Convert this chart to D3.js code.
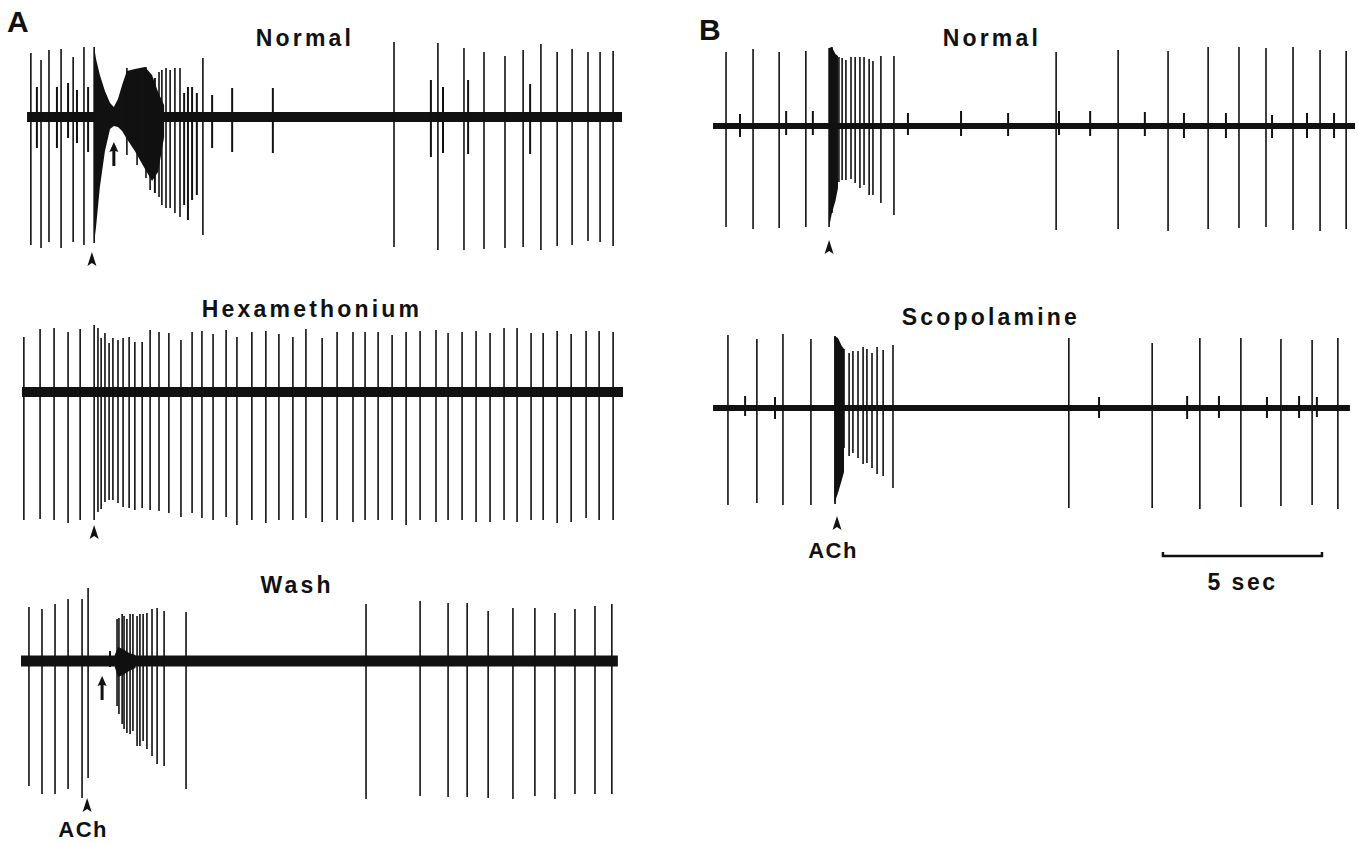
<!DOCTYPE html>
<html>
<head>
<meta charset="utf-8">
<script src="https://cdn.jsdelivr.net/npm/d3@7/dist/d3.min.js"></script>
<style>
    body { margin: 0; background: #fff; }
    text { font-family: "Liberation Sans", Arial, sans-serif; font-weight: 700; fill: #111; }
</style>
</head>
<body>
<div id="chart"></div>
<script>
// ---- data: spikes are [time (s), upward deflection, downward deflection] ----
// panel A, normal
const spikesANormal = [
    [0.31, 64, 128], [0.50, 30, 31], [0.63, 57, 131], [0.88, 67, 125], [1.13, 30, 31],
    [1.26, 68, 131], [1.48, 34, 21], [1.64, 60, 125], [1.76, 27, 26], [1.98, 70, 128],
    [2.11, 30, 35], [2.30, 70, 126],
    [3.33, 49, 38], [3.65, 45, 48], [3.93, 50, 61], [4.06, 42, 73], [4.21, 39, 76],
    [4.34, 45, 80], [4.43, 47, 88], [4.56, 49, 91], [4.69, 47, 91], [4.84, 49, 96],
    [5.00, 49, 100], [5.13, 24, 88], [5.25, 30, 103], [5.38, 30, 83], [5.53, 24, 78],
    [5.72, 59, 118], [6.01, 22, 31], [6.64, 29, 35], [7.92, 29, 36],
    [11.73, 75, 130], [12.89, 37, 40], [13.11, 74, 133], [13.27, 30, 36], [13.93, 69, 133],
    [14.06, 37, 37], [14.56, 65, 132], [15.22, 61, 131], [15.79, 67, 130], [16.01, 33, 37],
    [16.35, 73, 133], [16.86, 65, 129], [17.33, 68, 128], [17.83, 65, 124], [18.21, 65, 125],
    [18.62, 66, 129]
];
// dense response after ACh: [time, upper envelope, lower envelope]
const burstANormal = [
    [2.30, 70, 126], [2.36, 58, 110], [2.48, 42, 70], [2.64, 26, 34], [2.80, 14, 12],
    [2.92, 10, 9], [3.05, 18, 10], [3.18, 32, 14], [3.33, 46, 22], [3.58, 48, 34],
    [3.90, 50, 52], [4.12, 42, 64], [4.31, 25, 55], [4.50, 12, 20]
];

// panel A, hexamethonium
const spikesAHexa = [
    [0.09, 55, 128], [0.60, 63, 127], [1.04, 64, 128], [1.48, 60, 131], [1.86, 63, 128],
    [2.30, 67, 128], [2.42, 64, 120], [2.52, 54, 117], [2.64, 59, 110], [2.77, 49, 108],
    [2.89, 54, 108], [3.05, 52, 111], [3.21, 54, 115], [3.40, 55, 116], [3.58, 50, 118],
    [3.81, 50, 116], [4.06, 62, 118], [4.34, 60, 119], [4.65, 59, 121], [5.03, 52, 125],
    [5.38, 60, 121], [5.69, 61, 126], [6.04, 58, 128], [6.45, 62, 125], [6.79, 55, 133],
    [7.26, 60, 128], [7.70, 61, 131], [8.11, 58, 128], [8.55, 55, 128], [8.96, 63, 126],
    [9.47, 54, 130], [9.94, 60, 128], [10.44, 60, 130], [10.82, 60, 128], [11.23, 60, 128],
    [11.67, 57, 128], [12.11, 60, 133], [12.55, 61, 128], [13.05, 62, 130], [13.43, 59, 128],
    [13.87, 60, 128], [14.31, 61, 130], [14.75, 59, 130], [15.19, 64, 128], [15.60, 64, 130],
    [16.04, 59, 128], [16.42, 59, 128], [16.86, 61, 131], [17.30, 58, 130], [17.77, 61, 126],
    [18.18, 61, 128], [18.62, 60, 128]
];

// panel A, wash
const spikesAWash = [
    [0.25, 54, 125], [0.66, 52, 133], [1.07, 57, 133], [1.48, 62, 128], [1.92, 62, 137],
    [2.11, 73, 117], [2.80, 10, 6],
    [3.02, 42, 45], [3.08, 43, 53], [3.18, 47, 63], [3.24, 45, 68], [3.33, 42, 72],
    [3.43, 47, 73], [3.52, 47, 70], [3.65, 45, 85], [3.74, 47, 85], [3.84, 47, 80],
    [3.96, 48, 88], [4.12, 52, 95], [4.28, 53, 103], [4.50, 50, 105], [5.19, 49, 128],
    [10.85, 57, 138], [12.55, 60, 135], [13.43, 58, 136], [14.03, 58, 136], [14.69, 50, 137],
    [15.47, 53, 138], [16.16, 53, 135], [16.79, 48, 138], [17.42, 52, 133], [18.05, 55, 133],
    [18.58, 57, 133]
];
const burstAWash = [
    [2.95, 6, 6], [3.05, 14, 16], [3.20, 12, 14], [3.40, 8, 10], [3.60, 6, 7]
];

// panel B, normal
const spikesBNormal = [
    [0.41, 74, 101], [0.85, 12, 11], [1.26, 77, 103], [2.08, 74, 102], [2.30, 15, 9],
    [2.92, 75, 101], [3.14, 15, 9], [3.65, 78, 101], [3.74, 79, 87],
    [3.96, 69, 56], [4.06, 68, 54], [4.18, 66, 54], [4.34, 69, 53], [4.47, 69, 57],
    [4.62, 69, 62], [4.75, 69, 59], [4.91, 67, 69], [5.03, 65, 69], [5.28, 70, 77],
    [5.69, 70, 89], [6.13, 13, 9], [7.80, 15, 10], [9.28, 13, 10],
    [10.79, 74, 104], [10.88, 15, 9], [11.86, 15, 10], [12.74, 76, 103], [13.58, 14, 10],
    [14.31, 75, 105], [14.81, 13, 12], [15.57, 79, 103], [16.13, 13, 12], [16.54, 79, 102],
    [17.39, 78, 101], [17.58, 11, 12], [18.24, 79, 104], [18.68, 13, 12], [19.09, 76, 105],
    [19.53, 13, 12], [19.91, 75, 103]
];
const burstBNormal = [
    [3.65, 78, 101], [3.74, 79, 87], [3.85, 72, 75], [3.93, 70, 62]
];

// panel B, scopolamine
const spikesBScop = [
    [0.47, 73, 97], [1.01, 12, 8], [1.38, 69, 95], [1.95, 11, 11], [2.20, 74, 97],
    [3.08, 69, 97], [3.84, 72, 96],
    [4.12, 59, 40], [4.28, 55, 48], [4.40, 57, 45], [4.56, 57, 50], [4.72, 61, 56],
    [4.84, 59, 55], [5.00, 55, 60], [5.16, 61, 66], [5.35, 58, 68], [5.66, 63, 80],
    [11.19, 70, 100], [12.14, 11, 10], [13.81, 65, 100], [14.91, 12, 11], [15.31, 70, 101],
    [15.91, 12, 10], [16.60, 70, 99], [17.42, 11, 10], [17.86, 69, 98], [18.43, 12, 10],
    [18.84, 68, 97], [18.99, 11, 9], [19.65, 70, 101]
];
const burstBScop = [
    [3.81, 72, 96], [3.93, 70, 85], [4.05, 62, 72], [4.12, 59, 64]
];

// labels
const panelLabels = ["A", "B"];
const traceTitles = ["Normal", "Hexamethonium", "Wash", "Normal", "Scopolamine"];
const stimLabel = "ACh";
const scaleBarSeconds = 5;
const scaleBarLabel = "5 sec";

// ---- drawing ----
const W = 1358, H = 843;
const pxPerSec = 31.8;

const svg = d3.select("#chart").append("svg")
    .attr("width", W).attr("height", H);

// one time scale per panel
const xA = d3.scaleLinear().domain([0, 20]).range([21, 21 + 20 * pxPerSec]);
const xB = d3.scaleLinear().domain([0, 20]).range([713, 713 + 20 * pxPerSec]);

const traces = [
    { title: traceTitles[0], x: xA, base: 117, t0: 0.19, t1: 18.90, width: 10, spikes: spikesANormal, burst: burstANormal,
      titleT: 8.93, titleY: 46, head: { t: 2.23, dy: 135 }, arrow: { t: 2.92, dy: 25 } },
    { title: traceTitles[1], x: xA, base: 392, t0: 0.03, t1: 18.93, width: 10, spikes: spikesAHexa, burst: [],
      titleT: 9.15, titleY: 317, head: { t: 2.30, dy: 133 } },
    { title: traceTitles[2], x: xA, base: 661, t0: 0.0, t1: 18.77, width: 11, spikes: spikesAWash, burst: burstAWash,
      titleT: 8.68, titleY: 593, head: { t: 2.08, dy: 137 }, arrow: { t: 2.55, dy: 15 }, label: true },
    { title: traceTitles[3], x: xB, base: 126, t0: 0.0, t1: 20.19, width: 6, spikes: spikesBNormal, burst: burstBNormal,
      titleT: 8.77, titleY: 46, head: { t: 3.65, dy: 114 } },
    { title: traceTitles[4], x: xB, base: 408, t0: 0.0, t1: 20.03, width: 6, spikes: spikesBScop, burst: burstBScop,
      titleT: 8.74, titleY: 325, head: { t: 3.90, dy: 108 }, label: true }
];

traces.forEach(tr => {
    // amplitude scale, positive = up
    const y = d3.scaleLinear().domain([-150, 100]).range([tr.base + 150, tr.base - 100]);
    const g = svg.append("g");

    // baseline
    g.append("line")
        .attr("x1", tr.x(tr.t0)).attr("x2", tr.x(tr.t1))
        .attr("y1", y(0)).attr("y2", y(0))
        .attr("stroke", "#111").attr("stroke-width", tr.width);

    // filled envelope of the ACh response
    if (tr.burst.length) {
        const area = d3.area()
            .x(d => tr.x(d[0]))
            .y0(d => y(-d[2]))
            .y1(d => y(d[1]));
        g.append("path").datum(tr.burst)
            .attr("d", area)
            .attr("fill", "#111");
    }

    // spikes
    g.selectAll(".spike")
        .data(tr.spikes)
        .enter().append("line")
        .attr("class", "spike")
        .attr("x1", d => tr.x(d[0])).attr("x2", d => tr.x(d[0]))
        .attr("y1", d => y(d[1])).attr("y2", d => y(-d[2]))
        .attr("stroke", "#111")
        .attr("stroke-width", d => d[1] < 40 ? 2 : 1.6);

    // title
    svg.append("text")
        .attr("x", tr.x(tr.titleT)).attr("y", tr.titleY)
        .attr("text-anchor", "middle")
        .attr("font-size", 23).attr("letter-spacing", 3.2)
        .text(tr.title);

    // ACh arrowhead
    const hx = tr.x(tr.head.t), hy = tr.base + tr.head.dy;
    svg.append("path")
        .attr("d", `M${hx},${hy} L${hx + 4.5},${hy + 14} L${hx},${hy + 11} L${hx - 4.5},${hy + 14} Z`)
        .attr("fill", "#111");
    if (tr.label) {
        svg.append("text")
            .attr("x", hx - 4).attr("y", Math.min(hy + 42, H - 6))
            .attr("text-anchor", "middle")
            .attr("font-size", 22).attr("letter-spacing", 1.5)
            .text(stimLabel);
    }

    // up arrow marking the onset of the late response
    if (tr.arrow) {
        const ax = tr.x(tr.arrow.t), ay = tr.base + tr.arrow.dy;
        svg.append("path")
            .attr("d", `M${ax},${ay} L${ax + 4.5},${ay + 10} L${ax + 1.5},${ay + 9} L${ax + 1.5},${ay + 24}
                        L${ax - 1.5},${ay + 24} L${ax - 1.5},${ay + 9} L${ax - 4.5},${ay + 10} Z`)
            .attr("fill", "#111");
    }
});

// panel letters
svg.append("text").attr("x", 7).attr("y", 32)
    .attr("font-size", 30).style("font-weight", 900).text(panelLabels[0]);
svg.append("text").attr("x", 699).attr("y", 40)
    .attr("font-size", 30).style("font-weight", 900).text(panelLabels[1]);

// time scale bar
const barStart = 14.15;
const bx1 = xB(barStart), bx2 = xB(barStart + scaleBarSeconds), by = 556;
svg.append("path")
    .attr("d", `M${bx1},${by - 4} L${bx1},${by} L${bx2},${by} L${bx2},${by - 4}`)
    .attr("fill", "none").attr("stroke", "#111").attr("stroke-width", 2.5);
svg.append("text")
    .attr("x", (bx1 + bx2) / 2).attr("y", 590)
    .attr("text-anchor", "middle")
    .attr("font-size", 23).attr("letter-spacing", 2.5)
    .text(scaleBarLabel);
</script>
</body>
</html>
